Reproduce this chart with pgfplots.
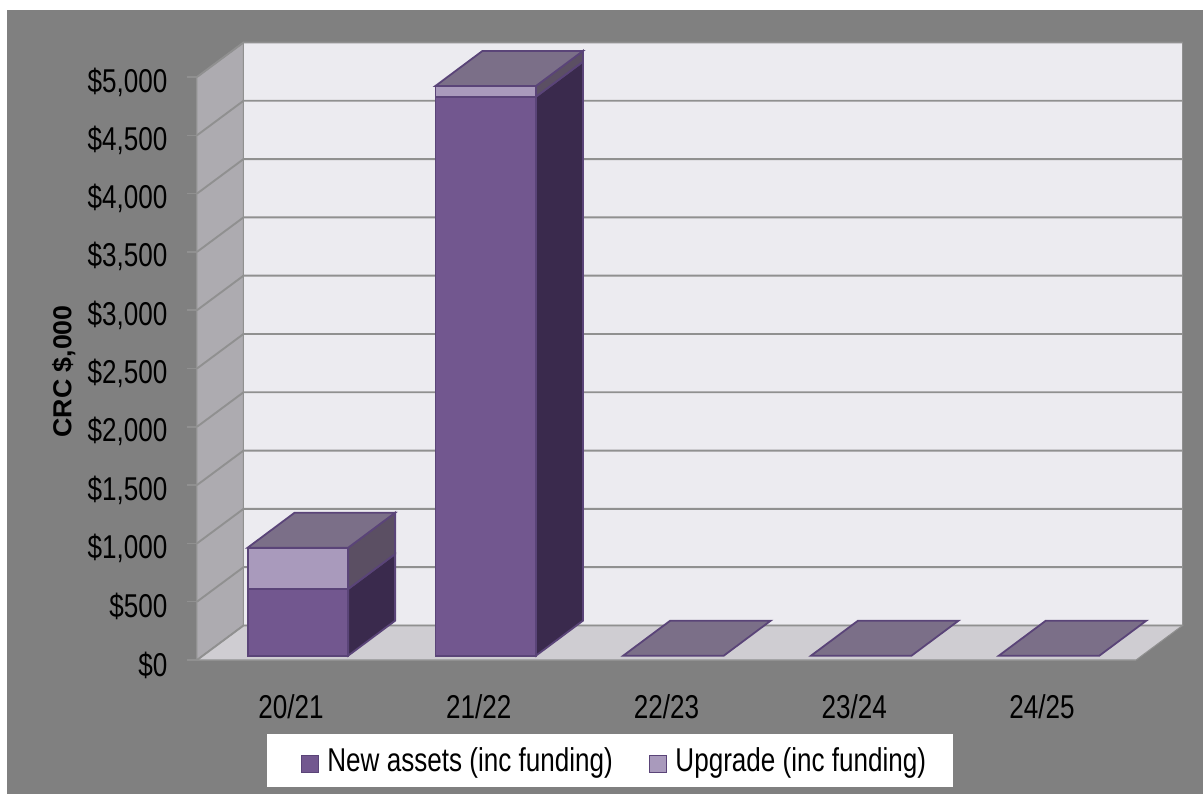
\documentclass[border=0pt]{standalone}
\usepackage{fontspec}
\setmainfont[FakeStretch=0.79]{Liberation Sans}
\newfontfamily\ylabfont[FakeStretch=1.03]{Liberation Sans}
\usepackage{pgfplots}
\usepackage{pgfplotstable}
\pgfplotsset{compat=1.18}

\definecolor{panel}{HTML}{808080}
\definecolor{backwall}{HTML}{ECEBF0}
\definecolor{sidewall}{HTML}{ADABB0}
\definecolor{floorc}{HTML}{CFCDD2}
\definecolor{gridc}{HTML}{909090}
\definecolor{edgec}{HTML}{5A4478}
\definecolor{newfront}{HTML}{72578F}
\definecolor{newside}{HTML}{3A2A4D}
\definecolor{upfront}{HTML}{A99ABC}
\definecolor{upside}{HTML}{5B4F63}
\definecolor{topc}{HTML}{7B6F88}

\pgfplotstableread{
x new up
0 572 354
1 4794 92
2 0 0
3 0 0
4 0 0
}\capex

\pgfplotsset{
  frame3d/.style={
    scale only axis, width=939pt, height=583pt,
    xmin=-0.5, xmax=4.5, ymin=0, ymax=5000,
    clip=false, anchor=south west,
  },
  wallline/.style={draw=gridc, line width=1.9pt, no marks, forget plot},
  face/.style={fill=#1, draw=edgec, line width=1.8pt, no marks, forget plot},
}

\begin{document}
\begin{tikzpicture}[x=1pt,y=1pt]
\fill[white] (0,0) rectangle (1203,794);
\fill[panel] (7,0) rectangle (1203,784);

\begin{axis}[
    frame3d,
    at={(197pt,134pt)},
    axis lines=left,
    axis line style={-, draw=gridc, line width=1.5pt},
    tick style={draw=gridc, line width=1.5pt},
    tick align=outside,
    ytick={0,500,...,5000},
    yticklabels={\$0,\$500,{\$1,000},{\$1,500},{\$2,000},{\$2,500},{\$3,000},{\$3,500},{\$4,000},{\$4,500},{\$5,000}},
    xtick={0,1,2,3,4},
    xticklabels={20/21,21/22,22/23,23/24,24/25},
    minor xtick={-0.5,0.5,1.5,2.5,3.5,4.5},
    major tick length=10pt,
    xtick style={draw=none},
    minor tick length=10pt,
    minor tick style={draw=gridc, line width=1.5pt},
    tick label style={font=\fontsize{33}{33}\selectfont, text=black},
    yticklabel style={xshift=-16pt, yshift=-5pt},
    xticklabel style={yshift=-21pt},
    ylabel={\ylabfont\bfseries\fontsize{26}{28}\selectfont CRC \$,000},
    ylabel style={at={(axis description cs:-0.142,0.495)}, anchor=center, text=black},
]
% walls
\addplot[fill=backwall, draw=gridc, line width=1pt, no marks, forget plot] coordinates {(-0.2524,296) (4.7476,296) (4.7476,5296) (-0.2524,5296)} --cycle;
\addplot[fill=sidewall, draw=gridc, line width=1pt, no marks, forget plot] coordinates {(-0.5,0) (-0.2524,296) (-0.2524,5296) (-0.5,5000)} --cycle;
\addplot[fill=floorc, draw=gridc, line width=1pt, no marks, forget plot] coordinates {(-0.5,0) (4.5,0) (4.7476,296) (-0.2524,296)} --cycle;
% gridlines, side wall then back wall
\addplot[wallline] coordinates {(-0.5,0) (-0.2524,296) (4.7476,296)};
\addplot[wallline] coordinates {(-0.5,500) (-0.2524,796) (4.7476,796)};
\addplot[wallline] coordinates {(-0.5,1000) (-0.2524,1296) (4.7476,1296)};
\addplot[wallline] coordinates {(-0.5,1500) (-0.2524,1796) (4.7476,1796)};
\addplot[wallline] coordinates {(-0.5,2000) (-0.2524,2296) (4.7476,2296)};
\addplot[wallline] coordinates {(-0.5,2500) (-0.2524,2796) (4.7476,2796)};
\addplot[wallline] coordinates {(-0.5,3000) (-0.2524,3296) (4.7476,3296)};
\addplot[wallline] coordinates {(-0.5,3500) (-0.2524,3796) (4.7476,3796)};
\addplot[wallline] coordinates {(-0.5,4000) (-0.2524,4296) (4.7476,4296)};
\addplot[wallline] coordinates {(-0.5,4500) (-0.2524,4796) (4.7476,4796)};
\addplot[wallline] coordinates {(-0.5,5000) (-0.2524,5296) (4.7476,5296)};
% bar sides and tops
\addplot[face=newside] coordinates {(0.3049,37) (0.5549,337) (0.5549,909) (0.3049,609)} --cycle;
\addplot[face=upside] coordinates {(0.3049,609) (0.5549,909) (0.5549,1263) (0.3049,963)} --cycle;
\addplot[face=topc] coordinates {(-0.2303,963) (0.3049,963) (0.5549,1263) (0.0197,1263)} --cycle;
\addplot[face=newside] coordinates {(1.3049,37) (1.5549,337) (1.5549,5131) (1.3049,4831)} --cycle;
\addplot[face=upside] coordinates {(1.3049,4831) (1.5549,5131) (1.5549,5223) (1.3049,4923)} --cycle;
\addplot[face=topc] coordinates {(0.7697,4923) (1.3049,4923) (1.5549,5223) (1.0197,5223)} --cycle;
\addplot[face=topc] coordinates {(1.7697,37) (2.3049,37) (2.5549,337) (2.0197,337)} --cycle;
\addplot[face=topc] coordinates {(2.7697,37) (3.3049,37) (3.5549,337) (3.0197,337)} --cycle;
\addplot[face=topc] coordinates {(3.7697,37) (4.3049,37) (4.5549,337) (4.0197,337)} --cycle;
\end{axis}

\begin{axis}[
    frame3d,
    at={(197pt,138.3pt)},
    hide axis,
    ybar stacked,
    bar width=100.5pt,
    bar shift=7pt,
    legend columns=2,
    legend style={
      at={(0.4398,-0.1798)}, anchor=center, draw=none, fill=white,
      font=\fontsize{33}{33}\selectfont, text=black,
      inner xsep=25pt, inner ysep=11.5pt,
      /tikz/every odd column/.append style={column sep=6pt},
      /tikz/every even column/.append style={column sep=25pt},
    },
    legend image code/.code={
      \path[draw=none, fill=none] (0pt,-12pt) rectangle (27pt,5pt);
      \draw[#1, line width=1.3pt] (10pt,-12pt) rectangle (27pt,5pt);
    },
]
\addplot[fill=newfront, draw=edgec, line width=1.8pt] table[x=x, y=new] {\capex};
\addplot[fill=upfront, draw=edgec, line width=1.8pt] table[x=x, y=up] {\capex};
\legend{New assets (inc funding), Upgrade (inc funding)}
\end{axis}
\end{tikzpicture}
\end{document}
